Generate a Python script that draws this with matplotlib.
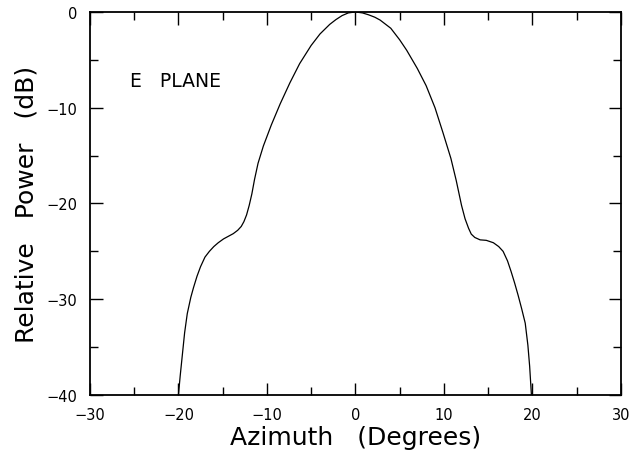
import numpy as np
import matplotlib
matplotlib.use("Agg")
import matplotlib.pyplot as plt
from matplotlib.ticker import MultipleLocator

# E-plane pattern
azimuth = [-20.0, -19.8, -19.6, -19.3, -19.0, -18.6, -18.3, -17.9, -17.5, -17.0,
           -16.5, -16.0, -15.5, -14.9, -14.3, -13.8, -13.3, -12.9, -12.6, -12.3,
           -12.0, -11.7, -11.4, -11.0, -10.4, -9.5, -8.5, -7.4, -6.3, -5.0,
           -4.0, -2.9, -2.2, -1.5, -0.8, 0.0, 0.8, 1.5, 2.2, 2.8, 4.0, 5.0,
           5.8, 7.0, 8.0, 9.0, 9.9, 10.8, 11.4, 12.0, 12.4, 12.8, 13.1,
           13.5, 14.1, 14.8, 15.6, 16.2, 16.7, 17.2, 17.6, 18.0, 18.4,
           18.8, 19.2, 19.5, 19.7, 19.9]
power = [-40.0, -38.0, -36.2, -33.5, -31.5, -29.8, -28.8, -27.6, -26.6, -25.6,
         -25.0, -24.5, -24.1, -23.7, -23.4, -23.15, -22.8, -22.4, -21.9, -21.2,
         -20.2, -19.0, -17.5, -15.8, -14.0, -11.8, -9.6, -7.4, -5.4, -3.5,
         -2.3, -1.3, -0.8, -0.38, -0.1, 0.0, -0.1, -0.3, -0.55, -0.85, -1.7, -2.9,
         -4.0, -5.9, -7.7, -10.0, -12.6, -15.3, -17.6, -20.2, -21.6, -22.6, -23.2,
         -23.55, -23.8, -23.85, -24.1, -24.5, -25.0, -26.0, -27.1, -28.3, -29.6,
         -31.0, -32.5, -34.8, -37.0, -40.0]

x_ticks = [-30, -20, -10, 0, 10, 20, 30]
y_ticks = [-40, -30, -20, -10, 0]

fig = plt.figure(figsize=(6.38, 4.56), dpi=100)
ax = fig.add_axes([0.141, 0.1316, 0.832, 0.84])

ax.plot(azimuth, power, color='black', lw=0.9)

ax.set_xlim(-30, 30)
ax.set_ylim(-40, 0)
ax.set_xticks(x_ticks)
ax.set_yticks(y_ticks)
ax.xaxis.set_minor_locator(MultipleLocator(5))
ax.yaxis.set_minor_locator(MultipleLocator(5))
ax.tick_params(which='both', direction='in', top=True, right=True,
               width=1.0, labelsize=10.5, pad=9)
ax.tick_params(which='major', length=9)
ax.tick_params(which='minor', length=6)
for s in ax.spines.values():
    s.set_linewidth(1.3)

ax.set_xlabel('Azimuth   (Degrees)', fontsize=18, labelpad=2)
ax.set_ylabel('Relative   Power   (dB)', fontsize=18, labelpad=6)
ax.text(-25.5, -7.2, 'E   PLANE', fontsize=13.5, va='center', ha='left')

fig.savefig('out.png', dpi=100)
